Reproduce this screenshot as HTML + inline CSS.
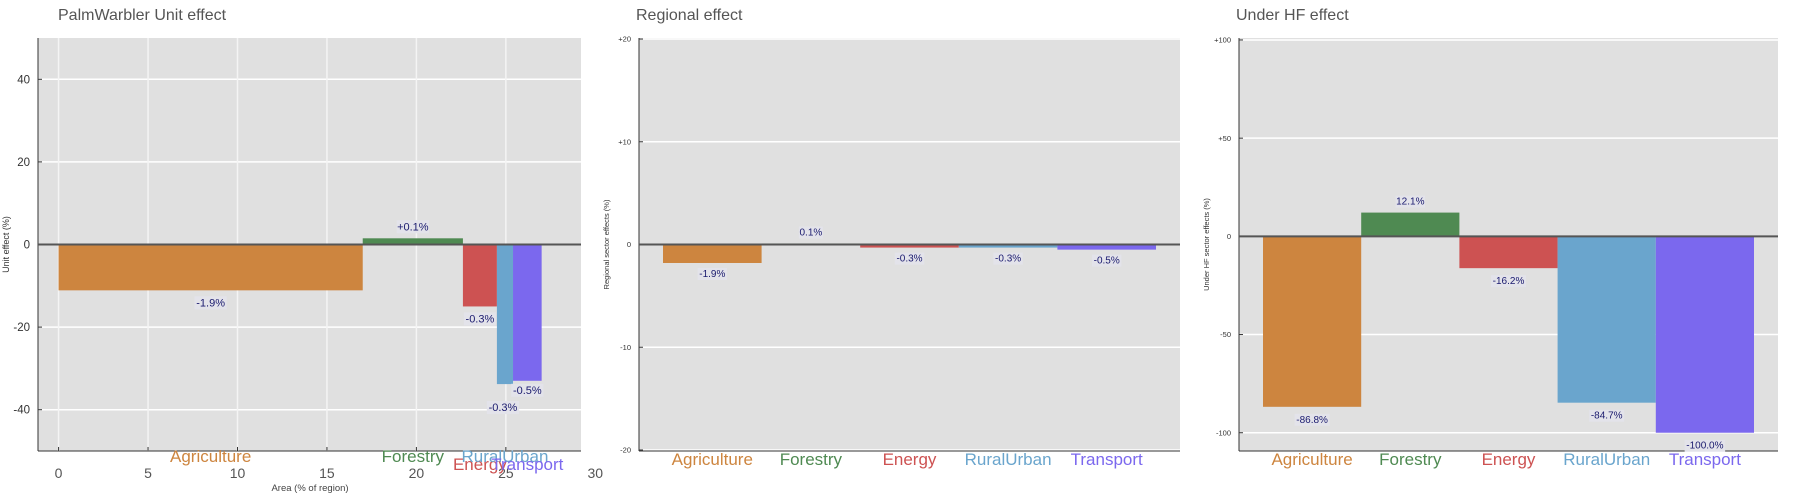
<!DOCTYPE html>
<html><head><meta charset="utf-8">
<style>
html,body{margin:0;padding:0;background:#fff;}
svg{display:block;font-family:"Liberation Sans",sans-serif;}
</style></head>
<body>
<svg id="chart" width="1800" height="500" viewBox="0 0 1800 500" xmlns="http://www.w3.org/2000/svg"></svg>
<script>
// ---- data ----
const categories = ["Agriculture","Forestry","Energy","RuralUrban","Transport"];
const sectorColors = ["#CD853F","#4F8A52","#CD5252","#6AA5CD","#7B68EE"];
// Panel 1: unit effect (x = cumulative area % of region)
const unitAreaStart = [0, 17, 22.6, 24.5, 25.4];
const unitAreaEnd   = [17, 22.6, 24.5, 25.4, 27];
const unitEffect    = [-11.1, 1.5, -15, -33.8, -33];
const unitLabels    = ["-1.9%","+0.1%","-0.3%","-0.3%","-0.5%"];
const unitXTicks    = [0,5,10,15,20,25,30];
const unitYTicks    = [40,20,0,-20,-40];
// Panel 2: regional effect
const regionalEffect = [-1.8, 0.1, -0.3, -0.3, -0.5];
const regionalLabels = ["-1.9%","0.1%","-0.3%","-0.3%","-0.5%"];
const regionalYTicks = [20,10,0,-10,-20];
const regionalTickText = ["+20","+10","0","-10","-20"];
// Panel 3: under HF effect
const hfEffect = [-86.8, 12.1, -16.2, -84.7, -100];
const hfLabels = ["-86.8%","12.1%","-16.2%","-84.7%","-100.0%"];
const hfYTicks = [100,50,0,-50,-100];
const hfTickText = ["+100","+50","0","-50","-100"];

const svg = document.getElementById('chart');
const NS = "http://www.w3.org/2000/svg";
function mk(tag, attrs, parent){
  const e = document.createElementNS(NS, tag);
  for (const k in attrs) e.setAttribute(k, attrs[k]);
  (parent||svg).appendChild(e);
  return e;
}
function lin(d0,d1,r0,r1){ return v => r0 + (v-d0)/(d1-d0)*(r1-r0); }

function frame(g, L, R, T, B, ys, yTicks, yText, tickSize, yTitle, titleText, titleX){
  const bg = mk('rect',{x:L,y:T,width:R-L,height:B-T,fill:'#e0e0e0'},g);
  
  
  yTicks.forEach((t,i)=>{
    const y = ys(t);
    if (t!==0){
      const gl = mk('line',{x1:L,x2:R,y1:y,y2:y,stroke:'#fff','stroke-width':1.5},g);
      
      
    }
    mk('line',{x1:L,x2:L+4,y1:y,y2:y,stroke:'#333','stroke-width':1},g);
    const tx = mk('text',{x:L-8,y:y+tickSize*0.35,'text-anchor':'end','font-size':tickSize,fill:'#333'},g);
    tx.textContent = yText[i];
    
    
  });
  const ax = mk('line',{x1:L,x2:L,y1:T,y2:B,stroke:'#333','stroke-width':1},g);
  
  
  const bx = mk('line',{x1:L,x2:R,y1:B,y2:B,stroke:'#333','stroke-width':1},g);
  
  
  const yt = mk('text',{x:0,y:0,'text-anchor':'middle','font-size':yTitle.size,fill:'#333',transform:`translate(${yTitle.x},${(T+B)/2}) rotate(-90)`},g);
  yt.textContent = yTitle.text;
  
  
  const ti = mk('text',{x:titleX,y:20,'font-size':16,fill:'#555'},g);
  ti.textContent = titleText;
  
  
}

function valueLabel(g, x, y, text, size){
  const w = text.length*size*0.55;
  mk('rect',{x:x-w/2-1,y:y-size+1,width:w+2,height:size+2,fill:'#e3e3ea'},g);
  const t = mk('text',{x:x,y:y,'text-anchor':'middle','font-size':size,fill:'#1a1a6e'},g);
  t.textContent = text;
  
  
}

// ---- Panel 1 ----
(function(){
  const g = mk('g',{});
  
  
  const L=38,R=581,T=38,B=451;
  const xs = lin(-1.15,29.2,L,R);
  const ys = lin(-50,50,B,T);
  frame(g,L,R,T,B,ys,unitYTicks,unitYTicks.map(String),11.5,{x:9,size:9,text:'Unit effect (%)'},'PalmWarbler Unit effect',58);
  unitXTicks.forEach(t=>{
    const x = xs(t);
    if (x < R){
      const gl = mk('line',{x1:x,x2:x,y1:T,y2:B,stroke:'#f4f4f4','stroke-width':1.5},g);
      
      
      mk('line',{x1:x,x2:x,y1:B,y2:B-4,stroke:'#333'},g);
    }
    const tx = mk('text',{x:x,y:478,'text-anchor':'middle','font-size':14,fill:'#555'},g);
    tx.textContent = t;
    
    
  });
  const xt = mk('text',{x:310,y:491,'text-anchor':'middle','font-size':9.5,fill:'#444'},g);
  xt.textContent = 'Area (% of region)';
  
  
  categories.forEach((c,i)=>{
    const x0 = xs(unitAreaStart[i]), x1 = xs(unitAreaEnd[i]);
    const y0 = ys(0), y1 = ys(unitEffect[i]);
    const r = mk('rect',{x:x0,y:Math.min(y0,y1),width:x1-x0,height:Math.abs(y1-y0),fill:sectorColors[i]},g);
    
    
  });
  mk('line',{x1:L,x2:R,y1:ys(0),y2:ys(0),stroke:'#555','stroke-width':2},g);
  const lblDy = [16, -4, 16, 27, 13];
  categories.forEach((c,i)=>{
    const cx = (xs(unitAreaStart[i])+xs(unitAreaEnd[i]))/2;
    const y1 = ys(unitEffect[i]);
    valueLabel(g, cx + (i===3?-2:0), unitEffect[i]>=0 ? ys(unitEffect[i])+lblDy[i]-4 : y1+lblDy[i], unitLabels[i], 11);
    const stag = (i===2||i===4) ? 470 : 462;
    const t = mk('text',{x:cx,y:stag,'text-anchor':'middle','font-size':17,fill:sectorColors[i]},g);
    t.textContent = c;
    
    
  });
})();

// ---- Panels 2 & 3 ----
function bandPanel(name,L,R,T,B,dmin,dmax,values,labels,yTicks,yText,yTitleText,titleText,labelOff){
  const g = mk('g',{});
  
  
  const ys = lin(dmin,dmax,B,T);
  frame(g,L,R,T,B,ys,yTicks,yText,7.5,{x:L-30,size:7.5,text:yTitleText},titleText,L-3);
  const pad = 24, bw = (R-L-2*pad)/categories.length;
  categories.forEach((c,i)=>{
    const x0 = L+pad+i*bw;
    const y0 = ys(0), y1 = ys(values[i]);
    const r = mk('rect',{x:x0,y:Math.min(y0,y1),width:bw,height:Math.max(Math.abs(y1-y0),1),fill:sectorColors[i]},g);
    
    
  });
  mk('line',{x1:L,x2:R,y1:ys(0),y2:ys(0),stroke:'#555','stroke-width':2},g);
  categories.forEach((c,i)=>{
    const cx = L+pad+(i+0.5)*bw;
    const y1 = ys(values[i]);
    const ly = values[i]>=0 ? y1-8 : y1+labelOff;
    valueLabel(g,cx,ly,labels[i],10);
    const t = mk('text',{x:cx,y:465,'text-anchor':'middle','font-size':17,fill:sectorColors[i]},g);
    t.textContent = c;
    
    
  });
}
bandPanel('regional-effect-panel',639,1180,38,451,-20.1,20.1,regionalEffect,regionalLabels,regionalYTicks,regionalTickText,'Regional sector effects (%)','Regional effect',14);
bandPanel('under-hf-effect-panel',1239,1778,38,451,-109.3,101,hfEffect,hfLabels,hfYTicks,hfTickText,'Under HF sector effects (%)','Under HF effect',16);
</script>
</body></html>
